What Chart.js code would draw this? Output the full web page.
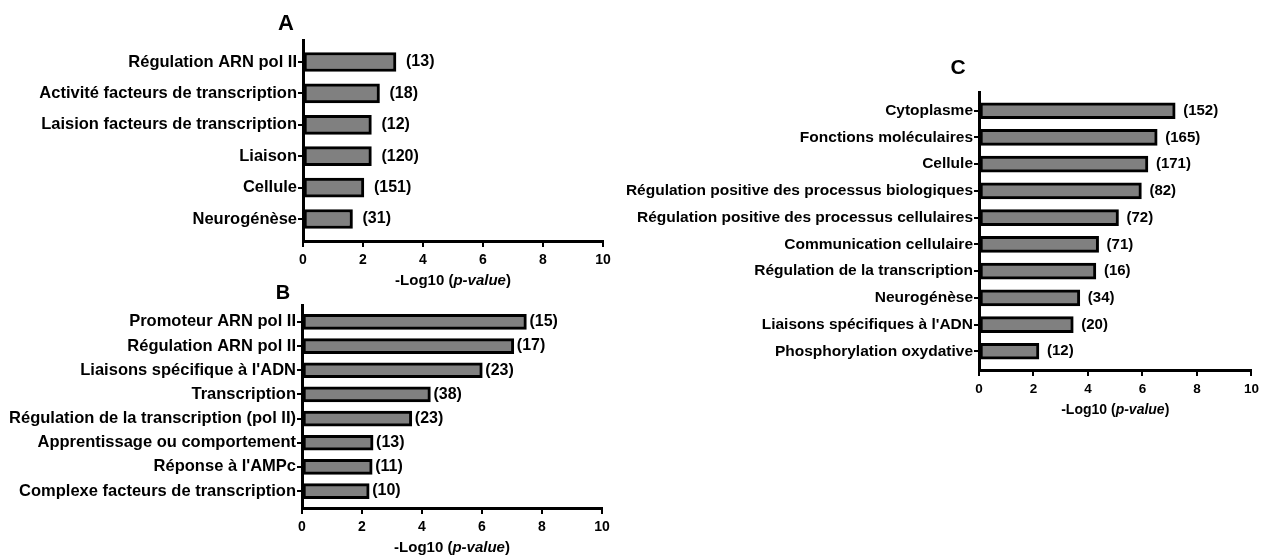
<!DOCTYPE html>
<html>
<head>
<meta charset="utf-8">
<script src="https://cdn.jsdelivr.net/npm/chart.js@4/dist/chart.umd.min.js"></script>
<style>
  body { margin: 0; background: #fff; }
  #wrap { position: relative; width: 1264px; height: 557px; overflow: hidden; }
  canvas { position: absolute; left: 0; top: 0; }
  .panel { position: absolute; font-family: "Liberation Sans", Arial, sans-serif; font-weight: bold; transform: translate(-50%, -50%); color: #000; }
</style>
</head>
<body>
<div id="wrap">
  <canvas id="chartA" width="1264" height="557"></canvas>
  <canvas id="chartB" width="1264" height="557"></canvas>
  <canvas id="chartC" width="1264" height="557"></canvas>
  <div class="panel" style="left:286px;top:23px;font-size:22px">A</div>
  <div class="panel" style="left:283px;top:292px;font-size:20px">B</div>
  <div class="panel" style="left:958px;top:67px;font-size:21px">C</div>
</div>
<script>
// Données du panneau A
const catsA = ['Régulation ARN pol II', 'Activité facteurs de transcription', 'Laision facteurs de transcription', 'Liaison', 'Cellule', 'Neurogénèse'];
const valsA = [3.1, 2.55, 2.28, 2.28, 2.03, 1.65];
const countsA = [13, 18, 12, 120, 151, 31];

// Données du panneau B
const catsB = ['Promoteur ARN pol II', 'Régulation ARN pol II', "Liaisons spécifique à l'ADN", 'Transcription', 'Régulation de la transcription (pol II)', 'Apprentissage ou comportement', "Réponse à l'AMPc", 'Complexe facteurs de transcription'];
const valsB = [7.48, 7.06, 6.01, 4.28, 3.66, 2.37, 2.34, 2.24];
const countsB = [15, 17, 23, 38, 23, 13, 11, 10];

// Données du panneau C
const catsC = ['Cytoplasme', 'Fonctions moléculaires', 'Cellule', 'Régulation positive des processus biologiques', 'Régulation positive des processus cellulaires', 'Communication cellulaire', 'Régulation de la transcription', 'Neurogénèse', "Liaisons spécifiques à l'ADN", 'Phosphorylation oxydative'];
const valsC = [7.2, 6.54, 6.2, 5.96, 5.12, 4.39, 4.29, 3.70, 3.46, 2.2];
const countsC = [152, 165, 171, 82, 72, 71, 16, 34, 20, 12];

// Axe x commun
const xTicks = [0, 2, 4, 6, 8, 10];
const FONT = '"Liberation Sans", Arial, sans-serif';

// Fonction pour créer un graphique en barres horizontales
function makeChart(id, cfg) {
  const ctx = document.getElementById(id).getContext('2d');

  // Plugin : étiquettes (n) et titre de l'axe x avec partie en italique
  const decorations = {
    id: 'decorations',
    afterDatasetsDraw(chart) {
      const c = chart.ctx;
      const bars = chart.getDatasetMeta(0).data;
      c.save();
      c.fillStyle = '#000';
      c.textBaseline = 'middle';
      c.textAlign = 'left';
      c.font = 'bold ' + cfg.countSize + 'px ' + FONT;
      bars.forEach((bar, i) => {
        c.fillText('(' + cfg.counts[i] + ')', bar.x + cfg.gap, bar.y);
      });

      const parts = [['-Log10 (', 'bold'], ['p-value', 'italic bold'], [')', 'bold']];
      let total = 0;
      parts.forEach(p => {
        c.font = p[1] + ' ' + cfg.titleSize + 'px ' + FONT;
        p.push(c.measureText(p[0]).width);
        total += p[2];
      });
      let x = (chart.chartArea.left + chart.chartArea.right) / 2 - total / 2;
      parts.forEach(p => {
        c.font = p[1] + ' ' + cfg.titleSize + 'px ' + FONT;
        c.fillText(p[0], x, cfg.titleY);
        x += p[2];
      });
      c.restore();
    }
  };

  return new Chart(ctx, {
    type: 'bar',
    data: {
      datasets: [{
        data: cfg.values.map((v, i) => ({ x: v, y: i })),
        backgroundColor: '#808080',
        borderColor: '#000',
        borderWidth: 3,
        borderSkipped: false,
        barThickness: cfg.barThickness
      }]
    },
    options: {
      indexAxis: 'y',
      responsive: false,
      animation: false,
      layout: {
        padding: {
          left: cfg.left - cfg.yWidth,
          right: 1264 - cfg.right,
          top: cfg.top,
          bottom: 557 - cfg.bottom - 40
        }
      },
      plugins: {
        legend: { display: false },
        tooltip: { enabled: false }
      },
      scales: {
        x: {
          type: 'linear',
          min: 0,
          max: 10,
          afterBuildTicks: (s) => { s.ticks = xTicks.map(v => ({ value: v })); },
          afterFit: (s) => { s.height = 40; },
          ticks: {
            color: '#000',
            maxRotation: 0,
            padding: 5,
            font: { family: FONT, size: cfg.tickSize, weight: 'bold' }
          },
          grid: { drawOnChartArea: false, color: '#000', lineWidth: 2, tickLength: 6 },
          border: { color: '#000', width: 3, z: 1 }
        },
        y: {
          type: 'linear',
          reverse: true,
          offset: false,
          min: -0.7,
          max: cfg.labels.length - 0.3,
          afterBuildTicks: (s) => { s.ticks = cfg.labels.map((l, i) => ({ value: i })); },
          afterFit: (s) => { s.width = cfg.yWidth; },
          ticks: {
            color: '#000',
            autoSkip: false,
            padding: 1,
            font: { family: FONT, size: cfg.labelSize, weight: 'bold' },
            callback: (v) => cfg.labels[v]
          },
          grid: { offset: false, drawOnChartArea: false, color: '#000', lineWidth: 2, tickLength: 5 },
          border: { color: '#000', width: 3, z: 1 }
        }
      }
    },
    plugins: [decorations]
  });
}

makeChart('chartA', {
  labels: catsA, values: valsA, counts: countsA,
  left: 303, right: 603, top: 40, bottom: 241, yWidth: 300,
  barThickness: 19, gap: 10, countSize: 16, labelSize: 16.5, tickSize: 14,
  titleSize: 15, titleY: 281
});

makeChart('chartB', {
  labels: catsB, values: valsB, counts: countsB,
  left: 302, right: 602, top: 305, bottom: 508, yWidth: 300,
  barThickness: 15, gap: 3, countSize: 16, labelSize: 16.5, tickSize: 14,
  titleSize: 15, titleY: 548
});

makeChart('chartC', {
  labels: catsC, values: valsC, counts: countsC,
  left: 979, right: 1256, top: 92, bottom: 370, yWidth: 400,
  barThickness: 16, gap: 8, countSize: 15, labelSize: 15.5, tickSize: 13.5,
  titleSize: 14, titleY: 410
});
</script>
</body>
</html>
